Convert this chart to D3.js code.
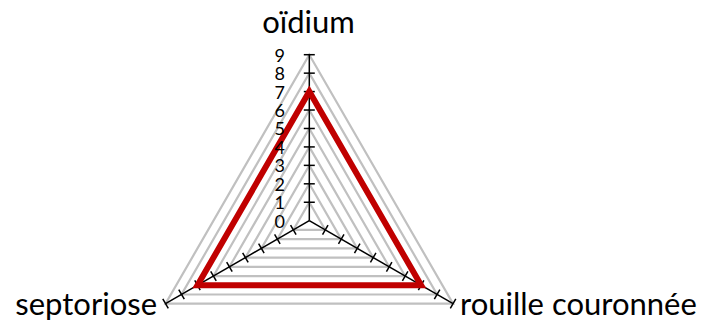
<!DOCTYPE html>
<html><head><meta charset="utf-8">
<script src="https://cdn.jsdelivr.net/npm/d3@7"></script>
<style>html,body{margin:0;padding:0;background:#fff;}svg{display:block;}</style>
</head><body>
<svg id="chart" width="719" height="320"></svg>
<script>
const categories = ["oïdium", "rouille couronnée", "septoriose"];
const values = [7, 7, 7];
const tickValues = [0,1,2,3,4,5,6,7,8,9];

const svg = d3.select("#chart");
const cx = 309.3, cy = 220.7, R = 166;
const r = d3.scaleLinear().domain([0, 9]).range([0, R]);
const ang = d3.scalePoint().domain(categories).range([-Math.PI/2, -Math.PI/2 + 2*Math.PI*2/3]);
const pt = (c, v) => [cx + r(v)*Math.cos(ang(c)), cy + r(v)*Math.sin(ang(c))];

// grid
const g = svg.append("g");
tickValues.filter(t => t > 0).forEach(t => {
  g.append("path")
    .attr("d", d3.line()(categories.map(c => pt(c, t))) + "Z")
    .attr("fill", "none").attr("stroke", "#c0c0c0").attr("stroke-width", 2.2);
});

// axes
categories.forEach(c => {
  const [x2, y2] = pt(c, 9);
  svg.append("line").attr("x1", cx).attr("y1", cy).attr("x2", x2).attr("y2", y2)
    .attr("stroke", "#000").attr("stroke-width", 1.5);
  const a = ang(c), px = -Math.sin(a), py = Math.cos(a);
  tickValues.filter(t => t > 0).forEach(t => {
    const [x, y] = pt(c, t);
    svg.append("line").attr("x1", x - 5.5*px).attr("y1", y - 5.5*py)
      .attr("x2", x + 5.5*px).attr("y2", y + 5.5*py)
      .attr("stroke", "#000").attr("stroke-width", 1.5);
  });
});

// series
svg.append("path")
  .attr("d", d3.line()(categories.map((c, i) => pt(c, values[i]))) + "Z")
  .attr("fill", "none").attr("stroke", "#c00000").attr("stroke-width", 6)
  .attr("stroke-linejoin", "miter");

// tick labels
const font = "Lato, 'Open Sans', sans-serif";
tickValues.forEach(t => {
  svg.append("text").attr("x", 285).attr("y", cy - r(t))
    .attr("text-anchor", "end").attr("dominant-baseline", "central")
    .attr("font-family", font).attr("font-size", 18).attr("fill", "#000")
    .text(t);
});

// category labels
const labelPos = {
  "oïdium": {x: 308.5, y: 33, anchor: "middle"},
  "rouille couronnée": {x: 460, y: 315, anchor: "start"},
  "septoriose": {x: 157, y: 315, anchor: "end"}
};
categories.forEach(c => {
  const p = labelPos[c];
  svg.append("text").attr("x", p.x).attr("y", p.y).attr("text-anchor", p.anchor)
    .attr("font-family", font).attr("font-size", 31).attr("fill", "#000").text(c);
});
</script>
</body></html>
